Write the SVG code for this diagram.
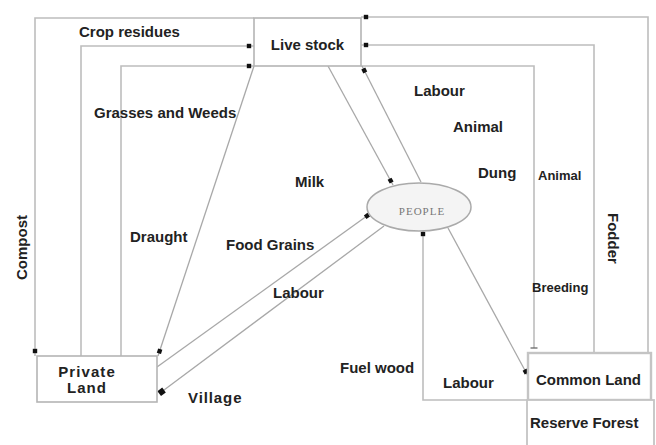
<svg xmlns="http://www.w3.org/2000/svg" width="656" height="445" viewBox="0 0 656 445">
<defs>
<marker id="sq" markerUnits="userSpaceOnUse" markerWidth="8" markerHeight="8" refX="5" refY="0" viewBox="-4 -4 8 8" orient="auto">
<rect x="-2.2" y="-2.2" width="4.4" height="4.4" fill="#111"/>
</marker>
<marker id="sqb" markerUnits="userSpaceOnUse" markerWidth="10" markerHeight="10" refX="2" refY="0" viewBox="-5 -5 10 10" orient="auto">
<rect x="-3" y="-3" width="6" height="6" fill="#111"/>
</marker>
<marker id="tick" markerUnits="userSpaceOnUse" markerWidth="10" markerHeight="10" refX="0" refY="0" viewBox="-5 -5 10 10" orient="auto">
<line x1="0" y1="-3.5" x2="0" y2="3.5" stroke="#666" stroke-width="1.3"/>
</marker>
</defs>
<style>
.t{font-family:"Liberation Sans",Arial,sans-serif;font-weight:bold;fill:#222;font-size:15px}
.s{font-size:13px}
.c{fill:none;stroke:#bdbdbd;stroke-width:1.6}
.d{fill:none;stroke:#a8a8a8;stroke-width:1.3}
.box{fill:#fff;stroke:#b5b5b5;stroke-width:1.6}
</style>
<rect width="656" height="445" fill="#fff"/>
<g id="connectors">
<path class="c" d="M254,18 H35 V356" marker-end="url(#sq)"/>
<path class="c" d="M81,356 V46 H254" marker-end="url(#sq)"/>
<path class="c" d="M121,356 V66 H254" stroke="#d6d6d6" marker-end="url(#sq)"/>
<path class="d" d="M254,66 L158,356" marker-end="url(#sq)"/>
<path class="c" d="M648,353 V17 H361" marker-end="url(#sq)"/>
<path class="c" d="M594,353 V45 H361" marker-end="url(#sq)"/>
<path class="c" d="M361,66 H534 V348" marker-end="url(#tick)"/>
<path class="d" d="M328,66 L393,185" marker-end="url(#sq)"/>
<path class="d" d="M421,182 L362,66" marker-end="url(#sq)"/>
<path class="d" d="M157,367 L371,213" marker-end="url(#sq)"/>
<path class="d" d="M384,226 L160,393" marker-end="url(#sqb)"/>
<path class="d" d="M448,228 L528,376" marker-end="url(#sq)"/>
<path class="c" d="M528,400 H423 V229" marker-end="url(#sq)"/>
</g>
<g id="livestock">
<rect class="box" x="254" y="18" width="107" height="48"/>
<text class="t" x="307.5" y="50" text-anchor="middle">Live stock</text>
</g>
<g id="people">
<ellipse cx="419" cy="207" rx="52" ry="24" fill="#f4f4f4" stroke="#aaa" stroke-width="1.5"/>
<text x="422" y="215" text-anchor="middle" font-family="'Liberation Serif',serif" font-size="11" fill="#777" letter-spacing="1">PEOPLE</text>
</g>
<g id="private-land">
<rect class="box" x="37" y="356" width="120" height="46"/>
<text class="t" x="87" y="377" text-anchor="middle" font-size="12.5" letter-spacing="1.1">Private</text>
<text class="t" x="87" y="393" text-anchor="middle" font-size="12.5" letter-spacing="1.1">Land</text>
</g>
<g id="common-land">
<rect x="528" y="353" width="123" height="47" fill="#fff" stroke="#c4c4c4" stroke-width="2.4"/>
<text class="t" x="536" y="385" font-size="15.5">Common Land</text>
</g>
<g id="reserve-forest">
<rect x="527" y="400" width="127" height="50" fill="#fff" stroke="#c4c4c4" stroke-width="1.8"/>
<text class="t" x="530" y="428">Reserve Forest</text>
</g>
<g id="labels">
<text class="t" x="79" y="37">Crop residues</text>
<text class="t" x="94" y="118">Grasses and Weeds</text>
<text class="t" x="414" y="96">Labour</text>
<text class="t" x="453" y="132">Animal</text>
<text class="t" x="295" y="187">Milk</text>
<text class="t" x="478" y="178" font-size="15.5">Dung</text>
<text class="t s" x="538" y="180">Animal</text>
<text class="t" transform="translate(608,213) rotate(90)">Fodder</text>
<text class="t" transform="translate(27,280) rotate(-90)">Compost</text>
<text class="t" x="130" y="242">Draught</text>
<text class="t" x="226" y="250">Food Grains</text>
<text class="t" x="273" y="298">Labour</text>
<text class="t s" x="532" y="292">Breeding</text>
<text class="t" x="188" y="403" font-size="12.5" letter-spacing="0.9">Village</text>
<text class="t" x="340" y="373">Fuel wood</text>
<text class="t" x="443" y="388">Labour</text>
</g>
</svg>
